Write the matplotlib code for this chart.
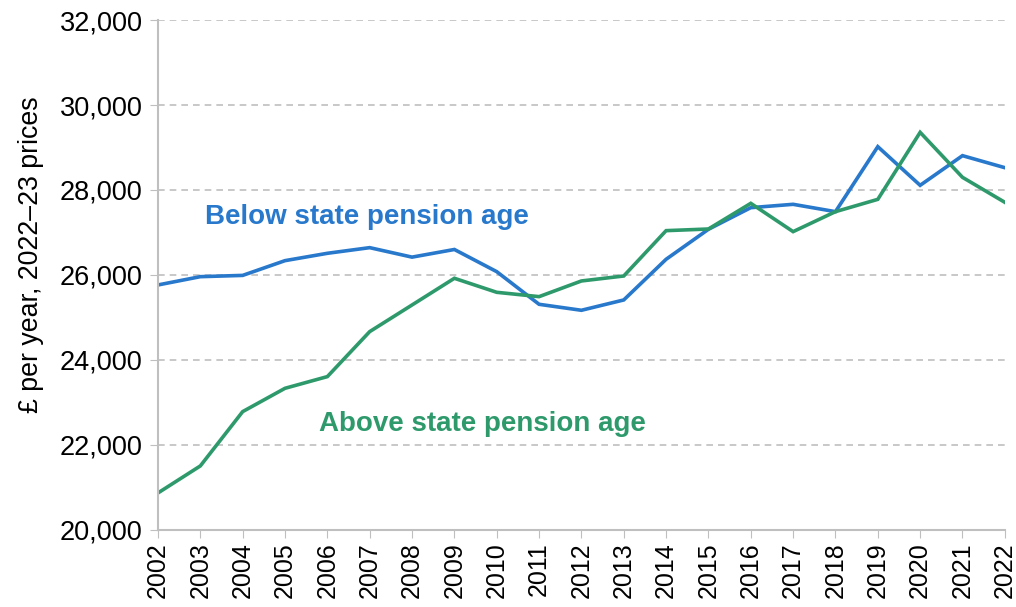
import matplotlib
matplotlib.use('Agg')
import matplotlib.pyplot as plt
from matplotlib.ticker import FuncFormatter

years = list(range(2002, 2023))
below_spa = [25765, 25960, 25990, 26337, 26510, 26643, 26420, 26600, 26078, 25310,
             25169, 25412, 26369, 27075, 27584, 27663, 27490, 29020, 28110, 28808, 28525]
above_spa = [20870, 21506, 22784, 23333, 23608, 24667, 25294, 25922, 25592, 25490,
             25859, 25976, 27043, 27082, 27686, 27020, 27490, 27780, 29357, 28298, 27710]

blue = '#2878CC'
green = '#2E9A6C'
grey = '#BFBFBF'

plt.rcParams['font.family'] = ['Liberation Sans', 'DejaVu Sans']

fig = plt.figure(figsize=(10.16, 6.07), dpi=100)
ax = fig.add_axes([0.1555, 0.127, 0.989 - 0.1555, 0.967 - 0.127])

ax.plot(years, below_spa, color=blue, lw=2.6, solid_joinstyle='miter')
ax.plot(years, above_spa, color=green, lw=2.6, solid_joinstyle='miter')

ax.set_xlim(2002, 2022)
ax.set_ylim(20000, 32000)
ax.set_xticks(years)
ax.set_xticklabels([str(y) for y in years], rotation=90, fontsize=18)
ax.set_yticks(range(20000, 32001, 2000))
ax.yaxis.set_major_formatter(FuncFormatter(lambda v, p: f'{int(v):,}'))
ax.tick_params(axis='y', labelsize=19.5, length=6, color=grey, pad=5)
ax.tick_params(axis='x', length=6, color=grey, pad=3)

ax.grid(axis='y', color=grey, linestyle=(0, (4, 3)), lw=1.2)
ax.set_axisbelow(True)
for s in ['top', 'right']:
    ax.spines[s].set_visible(False)
for s in ['left', 'bottom']:
    ax.spines[s].set_color(grey)
    ax.spines[s].set_linewidth(1.5)

ax.set_ylabel('£ per year, 2022–23 prices', fontsize=19.3)
ax.yaxis.set_label_coords(-0.135, 0.539)

ax.text(2003.1, 27370, 'Below state pension age', color=blue, fontsize=20,
        fontweight='bold', va='center', ha='left')
ax.text(2005.8, 22500, 'Above state pension age', color=green, fontsize=20,
        fontweight='bold', va='center', ha='left')

fig.savefig('out.png', dpi=100)
